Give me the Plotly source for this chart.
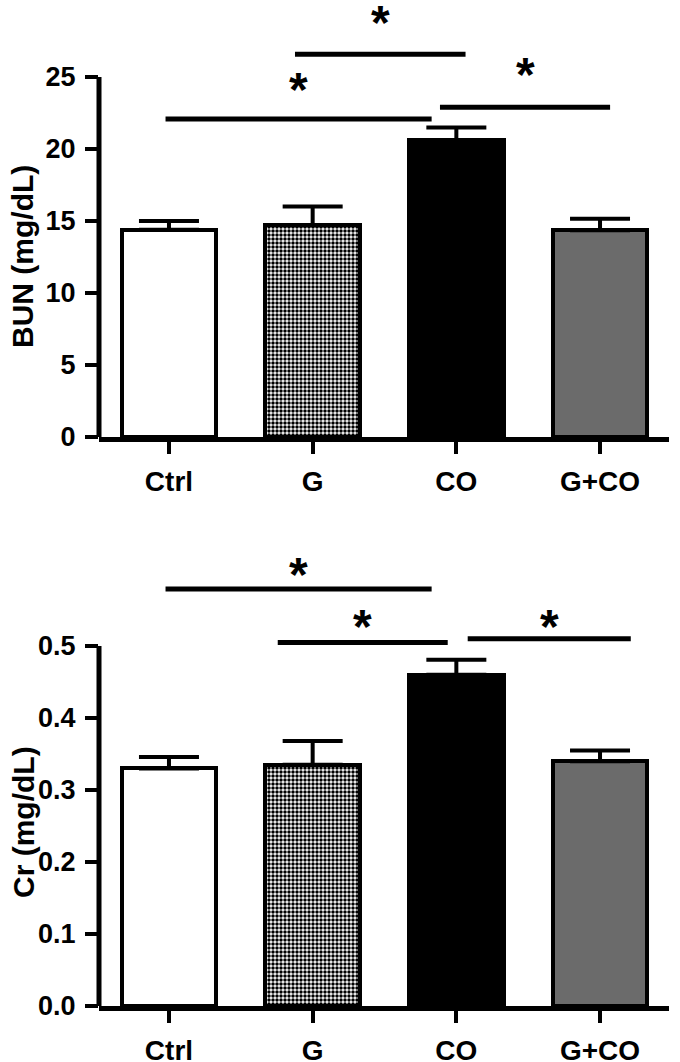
import plotly.graph_objects as go

categories = ["Ctrl", "G", "CO", "G+CO"]

bun_mean = [14.4, 14.7, 20.6, 14.35]
bun_err = [0.6, 1.3, 0.9, 0.8]
cr_mean = [0.330, 0.335, 0.460, 0.340]
cr_err = [0.016, 0.033, 0.021, 0.015]

bun_ticks = [0, 5, 10, 15, 20, 25]
cr_ticks = [0.0, 0.1, 0.2, 0.3, 0.4, 0.5]
cr_ticktext = ["0.0", "0.1", "0.2", "0.3", "0.4", "0.5"]

# significance brackets: (x start, x end, y level, star y)
bun_sig_x0 = [-0.024, 0.877, 1.886]
bun_sig_x1 = [1.828, 2.064, 3.07]
bun_sig_y = [22.08, 26.58, 22.9]
bun_star_y = [24.58, 29.17, 25.6]

cr_sig_x0 = [-0.024, 0.757, 2.079]
cr_sig_x1 = [1.828, 1.94, 3.214]
cr_sig_y = [0.579, 0.505, 0.51]
cr_star_y = [0.608, 0.536, 0.536]

fill_colors = ["white", "black", "black", "#6b6b6b"]
pattern_shapes = ["", ".", "", ""]

W, H = 680, 1062
FONT = "Liberation Sans, Arial, sans-serif"

fig = go.Figure()

xpos = list(range(len(categories)))


def fx(p):
    return p / W


def fy(p):
    return 1 - p / H


x_dom = [fx(99), fx(669)]
top_dom = [fy(437), fy(5)]
bot_dom = [fy(1006), fy(550)]
top_range = [0, (437 - 5) / 14.4]
bot_range = [0, (1006 - 550) / 720]

for ax_i, (means, errs, yax) in enumerate([(bun_mean, bun_err, "y"), (cr_mean, cr_err, "y2")]):
    xa = "x" if ax_i == 0 else "x2"
    fig.add_trace(go.Bar(
        x=xpos, y=means, xaxis=xa, yaxis=yax,
        width=0.66,
        marker=dict(
            color=fill_colors,
            line=dict(color="black", width=4),
            pattern=dict(shape=pattern_shapes, fgcolor="black", bgcolor="white",
                         size=4, solidity=0.6, fillmode="replace"),
        ),
        error_y=dict(type="data", array=errs, arrayminus=[0] * len(errs), symmetric=False,
                     color="black", thickness=4, width=30),
        showlegend=False,
        cliponaxis=False,
    ))

axis_common = dict(showgrid=False, zeroline=False, automargin=False)
xtickfont = dict(family=FONT, size=28, color="black", weight="bold")
ytickfont = dict(family=FONT, size=27, color="black", weight="bold")

fig.update_layout(
    width=W, height=H,
    margin=dict(l=0, r=0, t=0, b=0),
    paper_bgcolor="white", plot_bgcolor="white",
    bargap=0,
    xaxis=dict(domain=x_dom, anchor="y", range=[-0.487, 3.48], tickvals=xpos, ticktext=categories,
               showline=True, linecolor="black", linewidth=5, ticks="outside", ticklen=12,
               tickwidth=4, tickcolor="black", ticklabelstandoff=3,
               tickfont=xtickfont, **axis_common),
    yaxis=dict(domain=top_dom, anchor="x", range=top_range, tickvals=bun_ticks,
               showline=False, ticks="outside", ticklen=13, tickwidth=4, tickcolor="black",
               ticklabelstandoff=4, tickfont=ytickfont, **axis_common),
    xaxis2=dict(domain=x_dom, anchor="y2", range=[-0.487, 3.48], tickvals=xpos, ticktext=categories,
                showline=True, linecolor="black", linewidth=5, ticks="outside", ticklen=12,
                tickwidth=4, tickcolor="black", ticklabelstandoff=3,
                tickfont=xtickfont, **axis_common),
    yaxis2=dict(domain=bot_dom, anchor="x2", range=bot_range, tickvals=cr_ticks, ticktext=cr_ticktext,
                showline=False, ticks="outside", ticklen=13, tickwidth=4, tickcolor="black",
                ticklabelstandoff=4, tickfont=ytickfont, **axis_common),
)

# y-axis lines only up to the top tick
fig.add_shape(type="line", xref="x domain", yref="y", x0=0, x1=0, y0=0, y1=bun_ticks[-1],
              line=dict(color="black", width=5))
fig.add_shape(type="line", xref="x2 domain", yref="y2", x0=0, x1=0, y0=0, y1=cr_ticks[-1],
              line=dict(color="black", width=5))

for xr, yr, x0s, x1s, ys, sys_ in [("x", "y", bun_sig_x0, bun_sig_x1, bun_sig_y, bun_star_y),
                                    ("x2", "y2", cr_sig_x0, cr_sig_x1, cr_sig_y, cr_star_y)]:
    for x0, x1, y, sy in zip(x0s, x1s, ys, sys_):
        fig.add_shape(type="line", xref=xr, yref=yr, x0=x0, x1=x1, y0=y, y1=y,
                      line=dict(color="black", width=5))
        fig.add_annotation(xref=xr, yref=yr, x=(x0 + x1) / 2, y=sy, text="*", showarrow=False,
                           font=dict(family=FONT, size=48, color="black", weight="bold"),
                           yanchor="middle", yshift=-6)

fig.add_annotation(xref="paper", yref="paper", x=fx(23), y=fy(257), text="BUN (mg/dL)",
                   textangle=-90, showarrow=False, xanchor="center", yanchor="middle",
                   font=dict(family=FONT, size=30, color="black", weight="bold"))
fig.add_annotation(xref="paper", yref="paper", x=fx(23), y=fy(822), text="Cr (mg/dL)",
                   textangle=-90, showarrow=False, xanchor="center", yanchor="middle",
                   font=dict(family=FONT, size=30, color="black", weight="bold"))

fig.write_html("out.html", config={"displayModeBar": False},
               post_script="document.body.style.margin='0';")
